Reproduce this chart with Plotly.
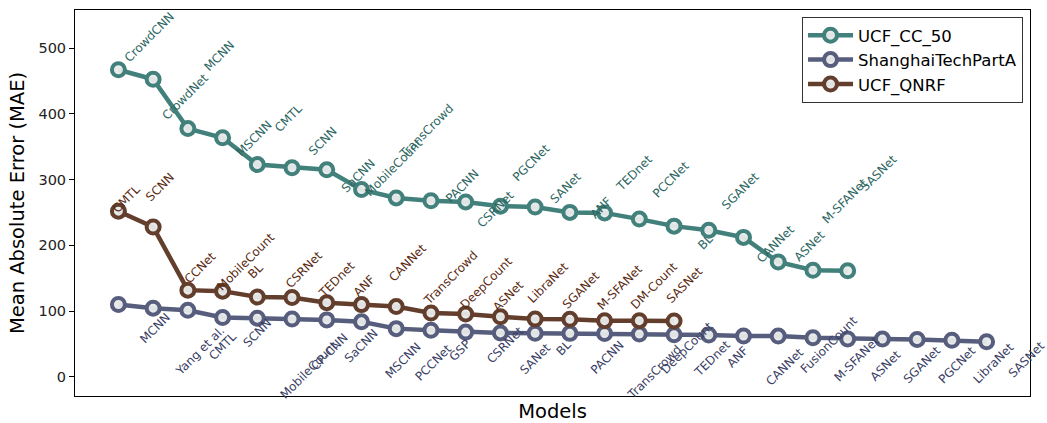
import plotly.graph_objects as go

# ---------------- data ----------------
cc50_models = ["CrowdCNN", "CrowdNet", "MCNN", "MSCNN", "CMTL", "SCNN", "SaCNN", "MobileCount",
               "TransCrowd", "PACNN", "CSRNet", "PGCNet", "SANet", "ANF", "TEDnet", "PCCNet",
               "BL", "SGANet", "CANNet", "ASNet", "M-SFANet", "SASNet"]
cc50_mae = [467.0, 452.5, 377.6, 363.7, 322.8, 318.1, 314.9, 284.8, 272.2, 267.9, 266.1, 259.6,
            258.4, 250.2, 249.4, 240.0, 229.3, 223.0, 212.2, 174.8, 162.3, 161.4]

sha_models = ["MCNN", "Yang et al.", "CMTL", "SCNN", "MobileCount", "CP-CNN", "SaCNN", "MSCNN",
              "PCCNet", "GSP", "CSRNet", "SANet", "BL", "PACNN", "TransCrowd", "DeepCount",
              "TEDnet", "ANF", "CANNet", "FusionCount", "M-SFANet", "ASNet", "SGANet", "PGCNet",
              "LibraNet", "SASNet"]
sha_mae = [110.2, 104.6, 101.3, 90.4, 89.4, 88.2, 86.8, 83.8, 73.5, 71.0, 68.2, 67.0, 66.5, 66.3,
           66.1, 65.2, 64.2, 63.9, 62.3, 62.2, 59.7, 57.8, 57.6, 57.0, 55.9, 53.6]

qnrf_models = ["CMTL", "SCNN", "CCNet", "MobileCount", "BL", "CSRNet", "TEDnet", "ANF", "CANNet",
               "TransCrowd", "DeepCount", "ASNet", "LibraNet", "SGANet", "M-SFANet", "DM-Count",
               "SASNet"]
qnrf_mae = [252.0, 228.0, 132.0, 130.5, 121.5, 120.8, 113.0, 110.0, 107.0, 97.2, 95.7, 91.6, 88.1,
            87.6, 85.6, 85.6, 85.2]

# label offsets (pixels, +x right, +y down) of each rotated label's centre from its point
cc50_dx = [31, 32, 31.5, 31, 31.5, 31, 31.5, 31.5, 30.5, 31.5, 30.5, 30.5, 30.5, 31, 30, 31, 31.5,
           31.5, 32, 31.5, 32, 31]
cc50_dy = [-33, 18, -72.5, 1, -46.5, -26.5, 6.5, -22, -67, -14.5, 7.5, -43.5, -19, -4.5, -39.5,
           -39.5, 16, -39.5, 6.5, -16, -69, -98]
sha_dx = [37, 46.5, 35, 34.5, 51.5, 37.5, 34.5, 41, 37, 29.5, 39.5, 35, 28.5, 38, 50, 47.5, 38, 29,
          41, 50.5, 44, 37.5, 39.5, 40, 42, 39.5]
sha_dy = [24, 42.5, 35.5, 15, 51.5, 33.5, 26.5, 39, 34.5, 20, 12.5, 26.5, 14.5, 24, 38.5, 13.5,
          24.5, 22.5, 30.5, 9, 21.5, 27, 26, 25.5, 23, 18]
qnrf_dx = [8, 7, 12, 23, -1.5, 11.5, 9.5, 2.5, 11, 19.5, 20.5, 8, 12.5, 11.5, 15.5, 14.5, 10.5]
qnrf_dy = [-12, -40, -22.5, -29.5, -26, -28, -23, -19, -44, -35.5, -31.5, -20.5, -36.5, -29,
           -33.5, -35, -36]

series = [
    ("UCF_CC_50", cc50_models, cc50_mae, "#41807b", "#2c6661", cc50_dx, cc50_dy),
    ("ShanghaiTechPartA", sha_models, sha_mae, "#575d7c", "#3a4065", sha_dx, sha_dy),
    ("UCF_QNRF", qnrf_models, qnrf_mae, "#633e2c", "#5a2a12", qnrf_dx, qnrf_dy),
]

FONT = "DejaVu Sans"
fig = go.Figure()
annotations = []
for name, models, vals, lc, tc, dxs, dys in series:
    xs = list(range(len(vals)))
    fig.add_trace(go.Scatter(
        x=xs, y=vals, name=name, mode="lines+markers",
        line=dict(color=lc, width=4.5),
        marker=dict(size=13, color="rgba(232,234,234,0.95)", line=dict(color=lc, width=4)),
    ))
    for i, (m, v) in enumerate(zip(models, vals)):
        annotations.append(dict(
            x=i, y=v, xref="x", yref="y", text=m, showarrow=False, textangle=-45,
            xanchor="center", yanchor="middle", xshift=dxs[i], yshift=-dys[i],
            font=dict(family=FONT, size=12, color=tc),
        ))

fig.update_layout(
    width=1047, height=423,
    margin=dict(l=75, r=17, t=10, b=27),
    paper_bgcolor="white", plot_bgcolor="white",
    font=dict(family=FONT, color="black"),
    showlegend=True,
    legend=dict(x=0.9927, y=0.982, xanchor="right", yanchor="top", itemwidth=45,
                bgcolor="white", bordercolor="#333333", borderwidth=1,
                font=dict(family=FONT, size=16.5, color="black")),
    annotations=annotations,
)
fig.update_xaxes(range=[-1.25, 26.25], showticklabels=False, ticks="", showgrid=False,
                 zeroline=False, showline=True, mirror=True, linecolor="black", linewidth=1,
                 title=dict(text="Models", font=dict(family=FONT, size=19.5), standoff=8),
                 automargin=False)
fig.update_yaxes(range=[-28.9, 557.8], dtick=100, tick0=0, ticks="outside", ticklen=5,
                 tickwidth=1, tickcolor="black", showgrid=False, zeroline=False,
                 showline=True, mirror=True, linecolor="black", linewidth=1,
                 tickfont=dict(family=FONT, size=14.5, color="#222222"),
                 title=dict(text="Mean Absolute Error (MAE)", font=dict(family=FONT, size=19.5),
                            standoff=8),
                 automargin=False)

fig.write_html("out.html", config={"displayModeBar": False},
               post_script="document.body.style.margin='0px';")
